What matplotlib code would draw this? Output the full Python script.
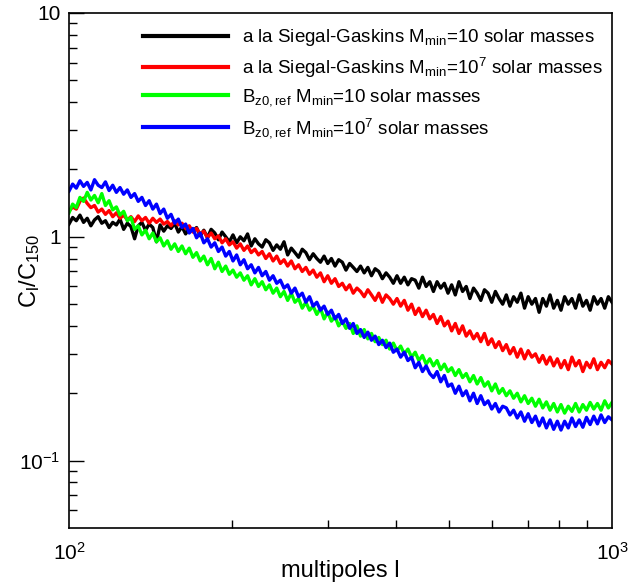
import numpy as np
import matplotlib
matplotlib.use("Agg")
import matplotlib.pyplot as plt
from matplotlib.ticker import FixedLocator, FuncFormatter, NullFormatter

plt.rcParams['font.family'] = ['Liberation Sans', 'DejaVu Sans']
plt.rcParams['mathtext.fontset'] = 'custom'
plt.rcParams['mathtext.rm'] = 'Liberation Sans'
plt.rcParams['mathtext.it'] = 'Liberation Sans'
plt.rcParams['mathtext.default'] = 'regular'

# multipoles (log-spaced sample of l = 100..1000)
ell = np.geomspace(100, 1000, 150)

# C_l / C_150 (the trace wanders inside a noisy band)
siegal_10 = [1.14, 1.22, 1.18, 1.25, 1.16, 1.21, 1.12, 1.19, 1.23, 1.15,
             1.18, 1.10, 1.16, 1.13, 1.20, 1.08, 1.15, 1.11, 0.98, 1.12,
             1.16, 1.07, 1.14, 1.10, 0.95, 1.13, 1.06, 1.12, 1.09, 1.15,
             1.05, 1.11, 1.03, 1.09, 1.06, 1.10, 1.01, 1.07, 0.99, 1.08,
             1.04, 0.97, 1.05, 1.00, 0.95, 1.02, 0.94, 1.00, 0.96, 1.03,
             0.91, 0.98, 0.93, 0.90, 0.97, 0.94, 0.87, 0.92, 0.88, 0.95,
             0.83, 0.89, 0.85, 0.81, 0.88, 0.85, 0.79, 0.84, 0.80, 0.77,
             0.82, 0.76, 0.80, 0.74, 0.79, 0.77, 0.71, 0.76, 0.73, 0.70,
             0.74, 0.69, 0.73, 0.67, 0.72, 0.70, 0.65, 0.69, 0.66, 0.62,
             0.67, 0.62, 0.66, 0.61, 0.65, 0.64, 0.59, 0.66, 0.60, 0.63,
             0.57, 0.63, 0.59, 0.62, 0.56, 0.61, 0.55, 0.63, 0.57, 0.60,
             0.53, 0.59, 0.56, 0.52, 0.58, 0.56, 0.51, 0.57, 0.53, 0.50,
             0.55, 0.49, 0.54, 0.51, 0.56, 0.48, 0.54, 0.50, 0.53, 0.46,
             0.53, 0.49, 0.55, 0.48, 0.52, 0.47, 0.54, 0.50, 0.53, 0.48,
             0.55, 0.49, 0.52, 0.47, 0.54, 0.50, 0.53, 0.48, 0.54, 0.51]

siegal_1e7 = [1.30, 1.36, 1.33, 1.44, 1.49, 1.41, 1.35, 1.38, 1.29, 1.33,
              1.26, 1.31, 1.23, 1.28, 1.21, 1.25, 1.19, 1.23, 1.17, 1.24,
              1.18, 1.22, 1.15, 1.21, 1.16, 1.20, 1.14, 1.17, 1.12, 1.18,
              1.13, 1.15, 1.09, 1.12, 1.05, 1.09, 1.03, 1.06, 0.99, 1.04,
              0.98, 1.01, 0.94, 0.98, 0.92, 0.95, 0.89, 0.93, 0.87, 0.91,
              0.85, 0.88, 0.83, 0.86, 0.80, 0.84, 0.78, 0.82, 0.76, 0.79,
              0.74, 0.78, 0.72, 0.75, 0.70, 0.73, 0.68, 0.71, 0.66, 0.69,
              0.63, 0.67, 0.62, 0.65, 0.60, 0.62, 0.58, 0.61, 0.56, 0.59,
              0.57, 0.54, 0.58, 0.55, 0.52, 0.56, 0.51, 0.55, 0.53, 0.50,
              0.53, 0.49, 0.52, 0.47, 0.50, 0.45, 0.48, 0.44, 0.47, 0.43,
              0.45, 0.41, 0.44, 0.40, 0.42, 0.38, 0.41, 0.37, 0.40, 0.36,
              0.38, 0.35, 0.37, 0.34, 0.37, 0.33, 0.35, 0.32, 0.34, 0.31,
              0.33, 0.30, 0.32, 0.29, 0.315, 0.285, 0.31, 0.29, 0.30, 0.275,
              0.295, 0.27, 0.29, 0.265, 0.285, 0.26, 0.28, 0.255, 0.29, 0.265,
              0.28, 0.25, 0.275, 0.26, 0.285, 0.255, 0.275, 0.26, 0.28, 0.27]

bz0_10 = [1.28, 1.40, 1.35, 1.50, 1.44, 1.58, 1.46, 1.53, 1.42, 1.56,
          1.38, 1.45, 1.32, 1.36, 1.25, 1.30, 1.18, 1.22, 1.08, 1.12,
          1.02, 1.07, 0.98, 1.04, 0.95, 0.99, 0.91, 0.96, 0.88, 0.93,
          0.86, 0.91, 0.84, 0.89, 0.81, 0.85, 0.78, 0.82, 0.75, 0.80,
          0.72, 0.77, 0.70, 0.74, 0.68, 0.71, 0.66, 0.69, 0.64, 0.67,
          0.61, 0.65, 0.60, 0.63, 0.58, 0.61, 0.56, 0.59, 0.54, 0.57,
          0.52, 0.56, 0.51, 0.53, 0.48, 0.51, 0.47, 0.49, 0.45, 0.48,
          0.43, 0.46, 0.42, 0.44, 0.40, 0.42, 0.39, 0.41, 0.37, 0.40,
          0.36, 0.385, 0.35, 0.37, 0.34, 0.355, 0.33, 0.345, 0.315, 0.335,
          0.31, 0.325, 0.30, 0.315, 0.29, 0.305, 0.28, 0.295, 0.27, 0.285,
          0.265, 0.28, 0.255, 0.27, 0.25, 0.26, 0.24, 0.255, 0.235, 0.245,
          0.225, 0.24, 0.22, 0.235, 0.215, 0.225, 0.205, 0.22, 0.20, 0.21,
          0.195, 0.205, 0.19, 0.20, 0.183, 0.195, 0.18, 0.19, 0.175, 0.188,
          0.172, 0.183, 0.168, 0.18, 0.165, 0.178, 0.163, 0.175, 0.166, 0.18,
          0.165, 0.178, 0.168, 0.182, 0.17, 0.18, 0.168, 0.185, 0.172, 0.182]

bz0_1e7 = [1.60, 1.72, 1.65, 1.78, 1.68, 1.75, 1.62, 1.80, 1.70, 1.66,
           1.76, 1.61, 1.70, 1.58, 1.66, 1.55, 1.62, 1.50, 1.56, 1.44,
           1.50, 1.38, 1.45, 1.33, 1.40, 1.27, 1.33, 1.21, 1.26, 1.15,
           1.20, 1.10, 1.14, 1.04, 1.09, 0.99, 1.04, 0.94, 0.98, 0.90,
           0.94, 0.86, 0.90, 0.82, 0.86, 0.78, 0.83, 0.75, 0.79, 0.72,
           0.75, 0.69, 0.73, 0.67, 0.70, 0.64, 0.67, 0.62, 0.64, 0.59,
           0.61, 0.56, 0.59, 0.54, 0.56, 0.51, 0.54, 0.49, 0.51, 0.47,
           0.49, 0.45, 0.47, 0.43, 0.45, 0.41, 0.43, 0.39, 0.41, 0.37,
           0.385, 0.355, 0.375, 0.345, 0.36, 0.33, 0.345, 0.32, 0.335, 0.305,
           0.315, 0.29, 0.305, 0.28, 0.29, 0.26, 0.275, 0.25, 0.265, 0.245,
           0.235, 0.25, 0.225, 0.24, 0.215, 0.22, 0.20, 0.215, 0.195, 0.205,
           0.185, 0.20, 0.18, 0.195, 0.178, 0.185, 0.17, 0.18, 0.165, 0.175,
           0.172, 0.16, 0.168, 0.155, 0.165, 0.15, 0.162, 0.148, 0.158, 0.143,
           0.155, 0.14, 0.152, 0.138, 0.15, 0.137, 0.15, 0.14, 0.155, 0.142,
           0.152, 0.141, 0.156, 0.145, 0.158, 0.146, 0.16, 0.148, 0.157, 0.152]

labels = ["a la Siegal-Gaskins M$_{min}$=10 solar masses",
          "a la Siegal-Gaskins M$_{min}$=10$^{7}$ solar masses",
          "B$_{z0,ref}$ M$_{min}$=10 solar masses",
          "B$_{z0,ref}$ M$_{min}$=10$^{7}$ solar masses"]
colors = ["#000000", "#ff0000", "#00ff00", "#0000ff"]

fig = plt.figure(figsize=(6.31, 5.83), dpi=100)
ax = fig.add_axes([69/631, 55/583, 543/631, 515/583])

for y, c, lab in zip([siegal_10, siegal_1e7, bz0_10, bz0_1e7], colors, labels):
    ax.plot(ell, y, color=c, lw=2.4, label=lab)

ax.set_xscale('log')
ax.set_yscale('log')
ax.set_xlim(100, 1000)
ax.set_ylim(0.05, 10)

ax.xaxis.set_major_locator(FixedLocator([100, 1000]))
ax.xaxis.set_major_formatter(FuncFormatter(lambda v, p: {100: '10$^{2}$', 1000: '10$^{3}$'}.get(int(round(v)), '')))
ax.xaxis.set_minor_locator(FixedLocator([200, 300, 400, 500, 600, 700, 800, 900]))
ax.xaxis.set_minor_formatter(NullFormatter())

ax.yaxis.set_major_locator(FixedLocator([0.1, 1, 10]))
ax.yaxis.set_major_formatter(FuncFormatter(lambda v, p: {0: '10$^{-1}$', 1: '1', 2: '10'}.get(int(round(np.log10(v) + 1)), '')))
ymin = [k * 0.01 for k in range(6, 10)] + [k * 0.1 for k in range(2, 10)] + [k * 1.0 for k in range(2, 10)]
ax.yaxis.set_minor_locator(FixedLocator(ymin))
ax.yaxis.set_minor_formatter(NullFormatter())

ax.tick_params(which='both', direction='in', top=False, right=False, labelsize=15, width=1)
ax.tick_params(axis='y', which='major', length=11, pad=6)
ax.tick_params(axis='y', which='minor', length=5.5)
ax.tick_params(axis='x', which='major', length=0, pad=10)
ax.tick_params(axis='x', which='minor', length=5.5)
for s in ax.spines.values():
    s.set_linewidth(1.2)

ax.set_xlabel("multipoles l", fontsize=17)
ax.xaxis.set_label_coords(0.5, -0.062)
ax.set_ylabel("C$_{l}$/C$_{150}$", fontsize=17)
ax.yaxis.set_label_coords(-0.05, 0.50)

leg = ax.legend(loc='upper left', bbox_to_anchor=(0.106, 1.005), frameon=False,
                fontsize=13.5, handlelength=4.5, handletextpad=0.75, labelspacing=0.4)
for ln in leg.get_lines():
    ln.set_linewidth(3)

fig.savefig("out.png", dpi=100)
